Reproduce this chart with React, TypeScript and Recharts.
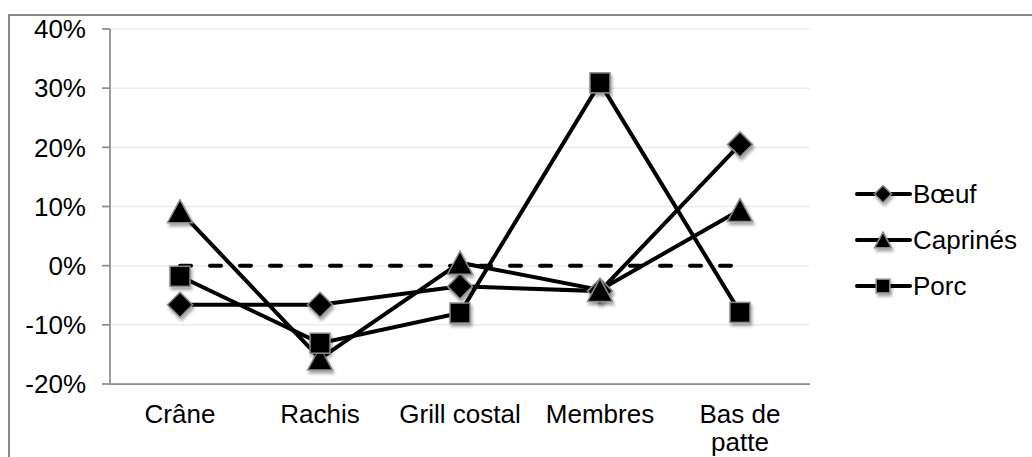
import { CartesianGrid, Legend, Line, LineChart, XAxis, YAxis } from 'recharts'

const categories = ['Crâne', 'Rachis', 'Grill costal', 'Membres', 'Bas de patte']
const boeuf = [-6.6, -6.6, -3.5, -4.3, 20.5]
const caprines = [9.2, -15.7, 0.5, -4.1, 9.4]
const porc = [-1.8, -13.1, -8.0, 30.9, -7.9]
const zeroLine = [0, 0, 0, 0, 0]
const yTicks = [-20, -10, 0, 10, 20, 30, 40]
const xBounds = [0, 1, 2, 3, 4, 5]

const FONT = '"Liberation Sans", Arial, sans-serif'
const AXIS = '#8e8e8e'

type Kind = 'diamond' | 'triangle' | 'square'

const series: { key: string; name: string; kind: Kind }[] = [
  { key: 'boeuf', name: 'Bœuf', kind: 'diamond' },
  { key: 'caprines', name: 'Caprinés', kind: 'triangle' },
  { key: 'porc', name: 'Porc', kind: 'square' },
]

const data = categories.map((name, i) => ({
  name,
  x: i + 0.5,
  boeuf: boeuf[i],
  caprines: caprines[i],
  porc: porc[i],
  zero: zeroLine[i],
}))

function shape(kind: Kind, cx: number, cy: number, s: number, key?: string) {
  const common = { fill: '#000', stroke: '#8a8a8a', strokeWidth: 1.5, filter: 'url(#mkShadow)' }
  if (kind === 'diamond') {
    const h = s / 2
    return <polygon key={key} points={`${cx},${cy - h} ${cx + h},${cy} ${cx},${cy + h} ${cx - h},${cy}`} {...common} />
  }
  if (kind === 'triangle') {
    const w = s / 2
    const h = (s * 0.92) / 2
    return <polygon key={key} points={`${cx},${cy - h} ${cx + w},${cy + h} ${cx - w},${cy + h}`} {...common} />
  }
  const h = (s * 0.8) / 2
  return <rect key={key} x={cx - h} y={cy - h} width={h * 2} height={h * 2} {...common} />
}

const makeDot = (kind: Kind) => (props: any) => {
  const { cx, cy, index } = props
  if (cx == null || cy == null) return <g key={`${kind}-${index}`} />
  return shape(kind, cx, cy, 25, `${kind}-${index}`)
}

// greedy word wrap measured with a canvas
let ctx: CanvasRenderingContext2D | null = null
function wrap(label: string, maxW: number) {
  if (!ctx) {
    ctx = document.createElement('canvas').getContext('2d')
    if (ctx) ctx.font = `26px ${FONT}`
  }
  const words = label.split(' ')
  const lines: string[] = []
  let cur = ''
  for (const w of words) {
    const test = cur ? `${cur} ${w}` : w
    if (cur && ctx && ctx.measureText(test).width > maxW) {
      lines.push(cur)
      cur = w
    } else cur = test
  }
  if (cur) lines.push(cur)
  return lines
}

const CatTick = (props: any) => {
  const { x, y, payload } = props
  const lines = wrap(String(payload.value), 132)
  return (
    <text x={x} y={y} textAnchor="middle" fontSize={26} fontFamily={FONT} fill="#000">
      {lines.map((l, i) => (
        <tspan key={i} x={x} dy={i === 0 ? '0.71em' : 28}>
          {l}
        </tspan>
      ))}
    </text>
  )
}

const renderLegend = () => (
  <div style={{ fontFamily: FONT, fontSize: 26, color: '#000' }}>
    {series.map((s) => (
      <div key={s.key} style={{ display: 'flex', alignItems: 'center', height: 46 }}>
        <svg width={58} height={24} style={{ overflow: 'visible' }}>
          <line x1={2} x2={55} y1={12} y2={12} stroke="#000" strokeWidth={4} strokeLinecap="round" />
          {shape(s.kind, 28, 12, 17)}
        </svg>
        <span style={{ lineHeight: '26px' }}>{s.name}</span>
      </div>
    ))}
  </div>
)

export default function App() {
  return (
    <div style={{ position: 'fixed', left: 0, top: 0, width: 1032, height: 457, background: '#fff', fontFamily: FONT }}>
      <svg width={0} height={0} style={{ position: 'absolute' }}>
        <defs>
          <filter id="mkShadow" x="-50%" y="-50%" width="200%" height="200%">
            <feDropShadow dx={1.5} dy={3} stdDeviation={1.5} floodColor="#000" floodOpacity={0.35} />
          </filter>
        </defs>
      </svg>
      <div
        style={{
          position: 'absolute',
          left: 8,
          top: 14,
          width: 1100,
          height: 600,
          borderTop: '2px solid #8c8c8c',
          borderLeft: '2px solid #8c8c8c',
        }}
      />
      <LineChart width={1032} height={457} data={data} margin={{ top: 29, right: 222, left: 10, bottom: 0 }}>
        <CartesianGrid horizontal vertical={false} stroke="#ececec" strokeWidth={1.5} />
        <YAxis
          type="number"
          domain={[-20, 40]}
          ticks={yTicks}
          width={100}
          tickFormatter={(v: number) => `${v}%`}
          tick={{ fill: '#000', fontSize: 26, fontFamily: FONT }}
          tickSize={8}
          tickMargin={16}
          stroke={AXIS}
          strokeWidth={1.75}
        />
        <XAxis
          xAxisId="a"
          type="number"
          dataKey="x"
          domain={[0, 5]}
          ticks={xBounds}
          tick={false}
          tickSize={7}
          height={8}
          stroke={AXIS}
          strokeWidth={1.75}
        />
        <XAxis
          xAxisId="b"
          type="category"
          dataKey="name"
          scale="band"
          axisLine={false}
          tickLine={false}
          tickMargin={7}
          height={65}
          interval={0}
          tick={<CatTick />}
        />
        <Legend
          content={renderLegend}
          layout="horizontal"
          align="center"
          verticalAlign="middle"
          wrapperStyle={{ position: 'absolute', left: 855, top: 171, width: 175, height: 140 }}
        />
        <Line
          xAxisId="a"
          dataKey="zero"
          stroke="#000"
          strokeWidth={4}
          strokeDasharray="11 19"
          strokeLinecap="round"
          dot={false}
          activeDot={false}
          legendType="none"
          isAnimationActive={false}
        />
        {series.map((s) => (
          <Line
            key={s.key}
            xAxisId="a"
            dataKey={s.key}
            name={s.name}
            stroke="#000"
            strokeWidth={4}
            dot={makeDot(s.kind)}
            activeDot={false}
            isAnimationActive={false}
          />
        ))}
      </LineChart>
    </div>
  )
}
